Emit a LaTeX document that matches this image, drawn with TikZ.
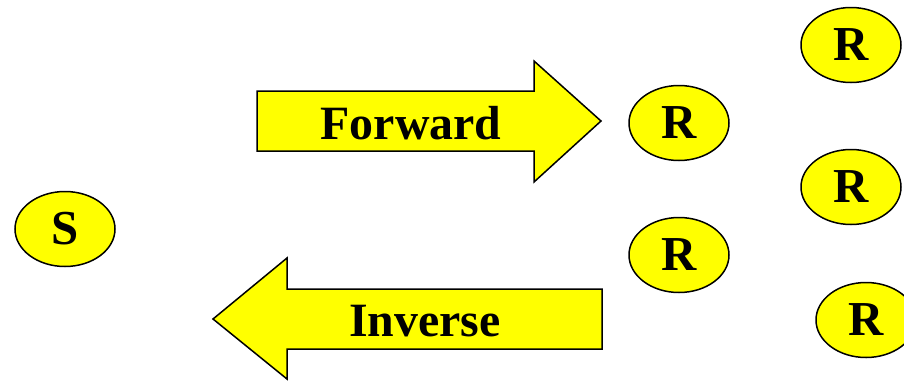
\documentclass[tikz,border=0pt]{standalone}
\usepackage{fontspec}
\setmainfont{Liberation Serif}
\usetikzlibrary{shapes.geometric}
\definecolor{ylw}{RGB}{255,255,0}
\tikzset{
  blob/.style={ellipse, draw=black, line width=1.5bp, fill=ylw, minimum width=100bp, minimum height=75bp, inner sep=0pt, font=\fontsize{49}{49}\selectfont\bfseries},
  bigarrow/.style={draw=black, line width=1.5bp, fill=ylw, line join=miter},
  arrowtext/.style={inner sep=0pt, font=\fontsize{48}{48}\selectfont\bfseries}
}
\begin{document}
\begin{tikzpicture}[x=1bp,y=-1bp]
\path[use as bounding box, fill=white] (0,0) rectangle (904,380);
% Forward arrow
\draw[bigarrow] (257,91) -- (534,91) -- (534,61) -- (601,121) -- (534,182) -- (534,151) -- (257,151) -- cycle;
\node[arrowtext] (fwd) at (411,123) {Forward};
% Inverse arrow
\draw[bigarrow] (213,319) -- (287,258) -- (287,289) -- (602,289) -- (602,349) -- (287,349) -- (287,379) -- cycle;
\node[arrowtext] (inv) at (425,321) {Inverse};
% ellipses
\node[blob] (s) at (65,229) {S};
\node[blob] (r1) at (851,45) {R};
\node[blob] (r2) at (679,123) {R};
\node[blob] (r3) at (851,187) {R};
\node[blob] (r4) at (679,255) {R};
\node[blob] (r5) at (866,320) {R};
\end{tikzpicture}
\end{document}
